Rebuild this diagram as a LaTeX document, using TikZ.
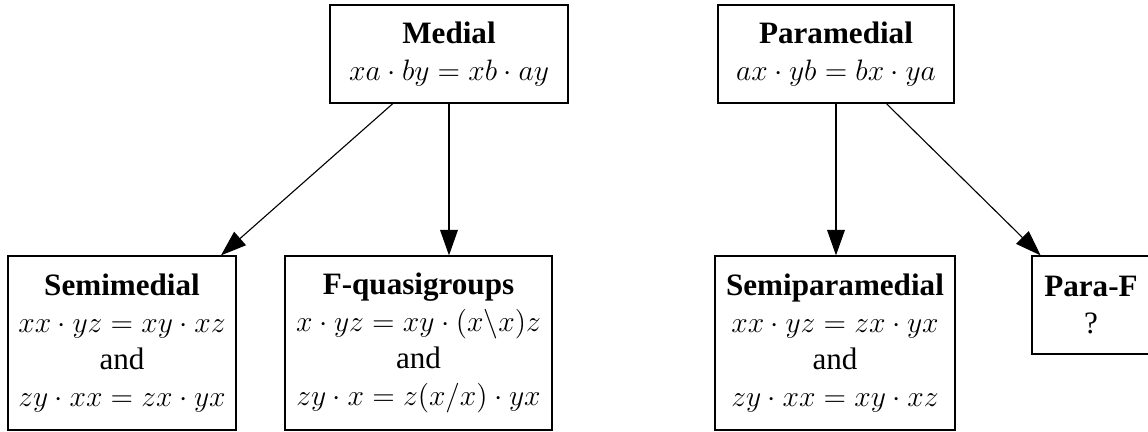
\RequirePackage{fix-cm}
\documentclass[tikz,border=0pt]{standalone}
\usepackage{amsmath,amssymb}
\usepackage{fontspec}
\setmainfont{Liberation Serif}
\usetikzlibrary{arrows.meta}
\tikzset{>={Triangle[length=11.5pt,width=8pt]}}
\newcommand{\eqn}[1]{{\fontsize{13.3}{16.6}\selectfont$#1$}}
\tikzset{
  qbox/.style={draw, line width=0.55pt, align=center, inner sep=0pt,
    font=\fontsize{14}{16.6}\selectfont},
  implies/.style={->, line width=0.5pt}
}

\begin{document}
\begin{tikzpicture}[x=0.45pt, y=-0.45pt]
  \useasboundingbox (0,0) rectangle (1148,432);
  % top row
  \node[qbox, minimum width=107.1pt, minimum height=44.1pt] (medial) at (449,54)
    {\textbf{Medial}\\ \eqn{xa \cdot by = xb \cdot ay}};
  \node[qbox, minimum width=106.2pt, minimum height=44.1pt] (paramed) at (836,54)
    {\textbf{Paramedial}\\ \eqn{ax \cdot yb = bx \cdot ya}};
  % bottom row
  \node[qbox, minimum width=102.6pt, minimum height=78.3pt] (semimed) at (122,343)
    {\textbf{Semimedial}\\ \eqn{xx \cdot yz = xy \cdot xz}\\ and\\ \eqn{zy \cdot xx = zx \cdot yx}};
  \node[qbox, minimum width=120.2pt, minimum height=78.3pt] (fquasi) at (418.5,343)
    {\textbf{F-quasigroups}\\ \eqn{x \cdot yz = xy \cdot (x\backslash x)z}\\ and\\ \eqn{zy \cdot x = z(x/x) \cdot yx}};
  \node[qbox, minimum width=108pt, minimum height=78.3pt] (semipara) at (835,343)
    {\textbf{Semiparamedial}\\ \eqn{xx \cdot yz = zx \cdot yx}\\ and\\ \eqn{zy \cdot xx = xy \cdot xz}};
  \node[qbox, minimum width=53.1pt, minimum height=44.1pt] (paraf) at (1091,305)
    {\textbf{Para-F}\\ ?};
  % implications
  \draw[implies] (medial) -- (semimed);
  \draw[implies] (medial) -- (medial |- fquasi.north);
  \draw[implies] (paramed) -- (paramed |- semipara.north);
  \draw[implies] (paramed) -- (paraf);
\end{tikzpicture}
\end{document}
